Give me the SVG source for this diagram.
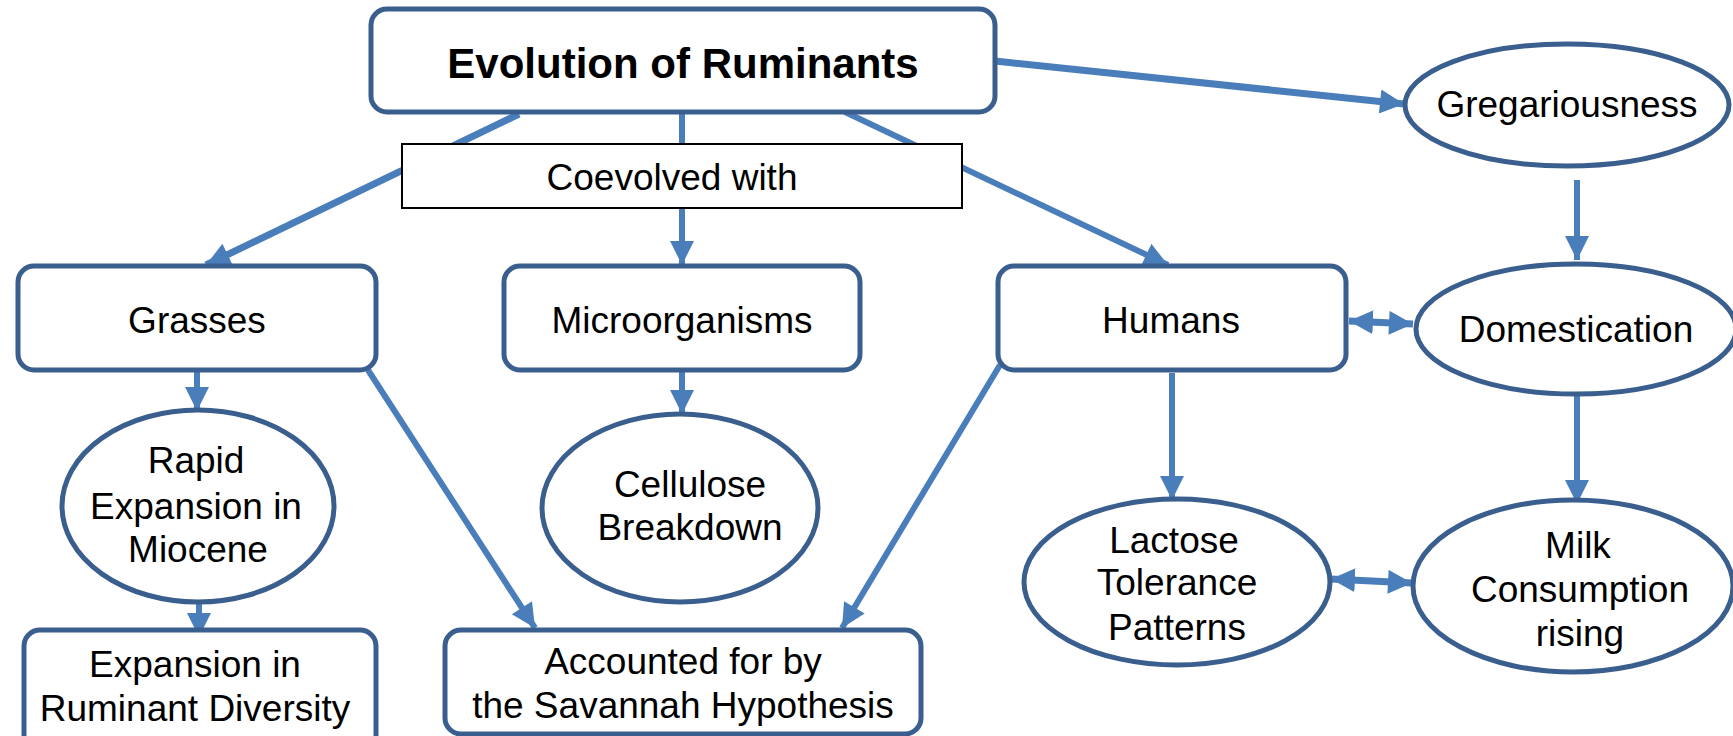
<svg xmlns="http://www.w3.org/2000/svg" width="1733" height="736" viewBox="0 0 1733 736">
  <style>
    .node { fill: #ffffff; stroke: #3A5F8E; stroke-width: 5; }
    .label { fill: #000000; stroke: none; font-family: "Liberation Sans", Arial, sans-serif; font-size: 37px; text-anchor: middle; }
    .title { font-size: 42px; font-weight: bold; }
    .link { fill: none; stroke: #4A7EBB; stroke-width: 6; }
    .thick { stroke-width: 7; }
  </style>
  <defs>
    <marker id="arrow" viewBox="0 0 10 10" refX="10" refY="5" markerWidth="26" markerHeight="24" markerUnits="userSpaceOnUse" orient="auto">
      <path d="M0,0 L10,5 L0,10 Z" fill="#4A7EBB"/>
    </marker>
    <marker id="arrowStart" viewBox="0 0 10 10" refX="0" refY="5" markerWidth="24" markerHeight="24" markerUnits="userSpaceOnUse" orient="auto">
      <path d="M10,0 L0,5 L10,10 Z" fill="#4A7EBB"/>
    </marker>
  </defs>

  <!-- connectors -->
  <g id="connectors">
    <line class="link thick" x1="995" y1="61" x2="1404" y2="104" marker-end="url(#arrow)"/>
    <line class="link thick" x1="519" y1="114" x2="206" y2="265" marker-end="url(#arrow)"/>
    <line class="link" x1="682" y1="112" x2="682" y2="265" marker-end="url(#arrow)"/>
    <line class="link" x1="845" y1="112" x2="1168" y2="265" marker-end="url(#arrow)"/>
    <line class="link" x1="1577" y1="180" x2="1577" y2="260" marker-end="url(#arrow)"/>
    <line class="link thick" x1="1349" y1="321" x2="1413" y2="324" marker-start="url(#arrowStart)" marker-end="url(#arrow)"/>
    <line class="link" x1="197" y1="372" x2="197" y2="411" marker-end="url(#arrow)"/>
    <line class="link" x1="199" y1="584" x2="199" y2="637" marker-end="url(#arrow)"/>
    <line class="link" x1="368" y1="370" x2="535" y2="628" marker-end="url(#arrow)"/>
    <line class="link" x1="1000" y1="365" x2="842" y2="628" marker-end="url(#arrow)"/>
    <line class="link" x1="682" y1="372" x2="682" y2="414" marker-end="url(#arrow)"/>
    <line class="link" x1="1172" y1="373" x2="1172" y2="500" marker-end="url(#arrow)"/>
    <line class="link" x1="1577" y1="396" x2="1577" y2="504" marker-end="url(#arrow)"/>
    <line class="link thick" x1="1331" y1="579" x2="1412" y2="583" marker-start="url(#arrowStart)" marker-end="url(#arrow)"/>
  </g>

  <g id="evolution">
    <rect class="node" x="371" y="9" width="624" height="103" rx="16"/>
    <text class="label title" x="683" y="78">Evolution of Ruminants</text>
  </g>

  <g id="coevolved">
    <rect x="402" y="144" width="560" height="64" fill="#ffffff" stroke="#000000" stroke-width="2"/>
    <text class="label" x="672" y="190">Coevolved with</text>
  </g>

  <g id="gregariousness">
    <ellipse class="node" cx="1567" cy="105" rx="162" ry="61"/>
    <text class="label" x="1567" y="117">Gregariousness</text>
  </g>

  <g id="domestication">
    <ellipse class="node" cx="1576" cy="329" rx="160" ry="65"/>
    <text class="label" x="1576" y="342">Domestication</text>
  </g>

  <g id="grasses">
    <rect class="node" x="18" y="266" width="358" height="104" rx="16"/>
    <text class="label" x="197" y="333">Grasses</text>
  </g>

  <g id="microorganisms">
    <rect class="node" x="504" y="266" width="356" height="104" rx="16"/>
    <text class="label" x="682" y="333">Microorganisms</text>
  </g>

  <g id="humans">
    <rect class="node" x="998" y="266" width="348" height="104" rx="16"/>
    <text class="label" x="1171" y="333">Humans</text>
  </g>

  <g id="rapid-expansion">
    <ellipse class="node" cx="198" cy="506" rx="136" ry="96"/>
    <text class="label" x="196" y="473">Rapid</text>
    <text class="label" x="196" y="519">Expansion in</text>
    <text class="label" x="198" y="562">Miocene</text>
  </g>

  <g id="cellulose">
    <ellipse class="node" cx="680" cy="508" rx="138" ry="94"/>
    <text class="label" x="690" y="497">Cellulose</text>
    <text class="label" x="690" y="540">Breakdown</text>
  </g>

  <g id="ruminant-diversity">
    <rect class="node" x="24" y="630" width="352" height="125" rx="16"/>
    <text class="label" x="195" y="677">Expansion in</text>
    <text class="label" x="195" y="721">Ruminant Diversity</text>
  </g>

  <g id="savannah">
    <rect class="node" x="445" y="630" width="476" height="104" rx="16"/>
    <text class="label" x="683" y="674">Accounted for by</text>
    <text class="label" x="683" y="718">the Savannah Hypothesis</text>
  </g>

  <g id="lactose">
    <ellipse class="node" cx="1177" cy="582" rx="153" ry="83"/>
    <text class="label" x="1174" y="553">Lactose</text>
    <text class="label" x="1177" y="595">Tolerance</text>
    <text class="label" x="1177" y="640">Patterns</text>
  </g>

  <g id="milk">
    <ellipse class="node" cx="1573" cy="586" rx="160" ry="86"/>
    <text class="label" x="1578" y="558">Milk</text>
    <text class="label" x="1580" y="602">Consumption</text>
    <text class="label" x="1580" y="646">rising</text>
  </g>
</svg>
